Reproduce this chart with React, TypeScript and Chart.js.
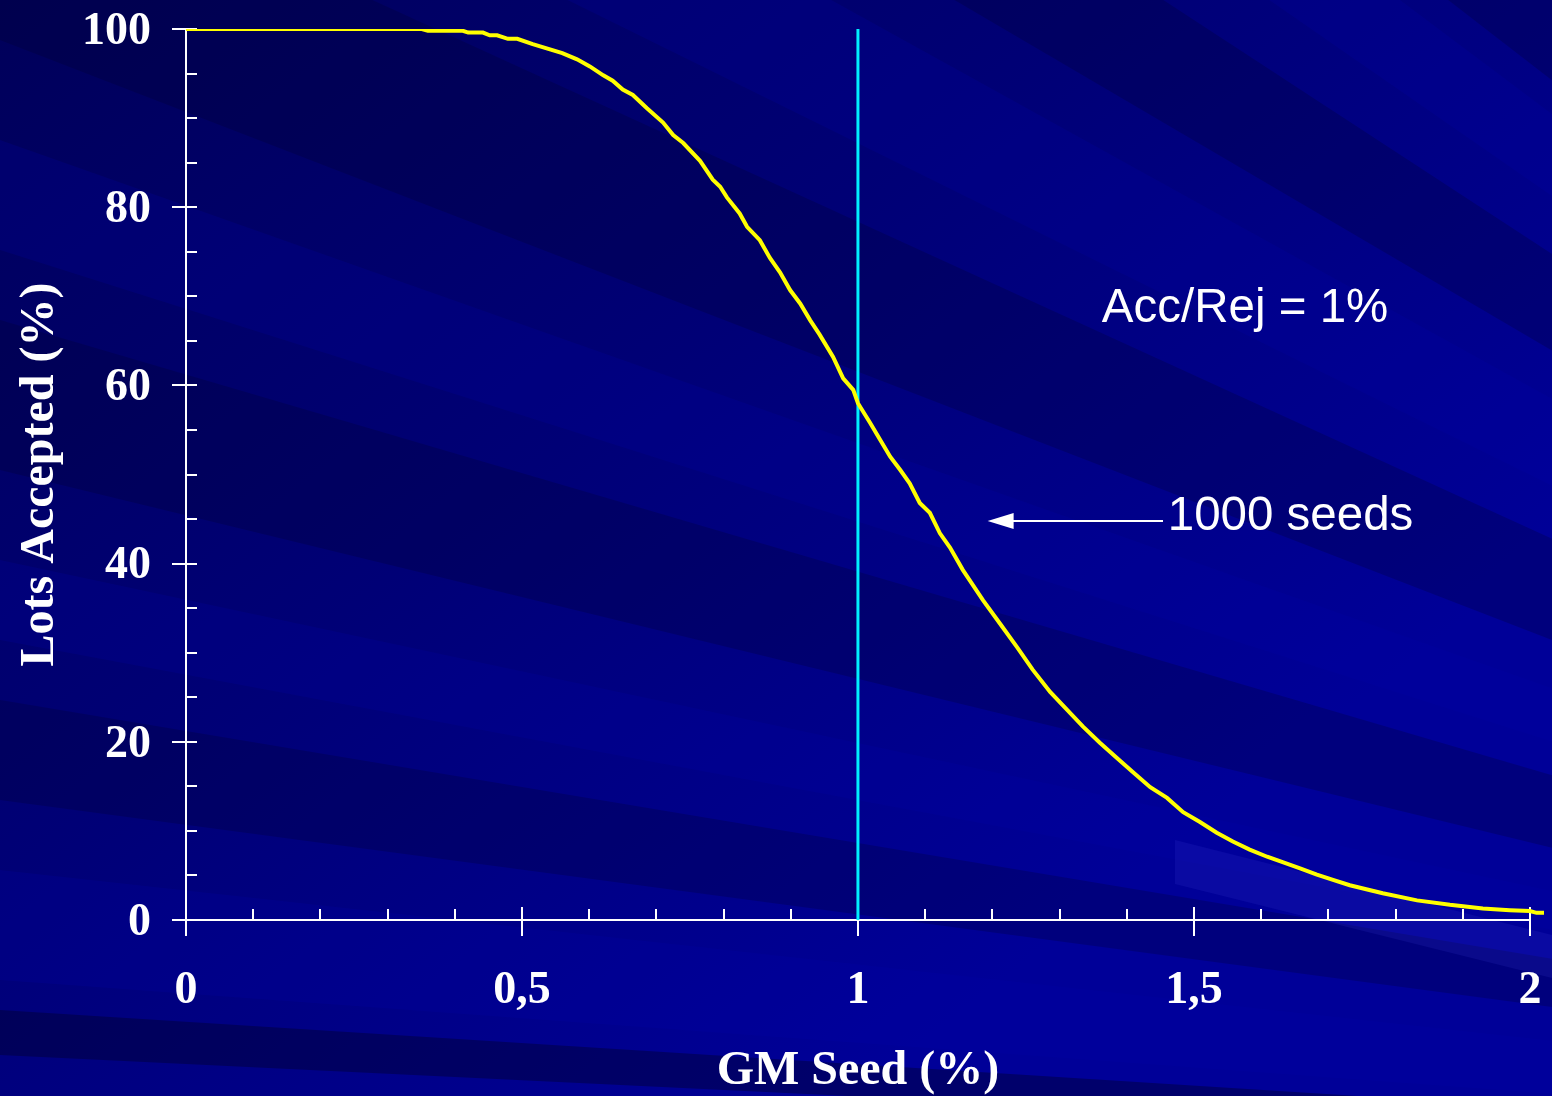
import React, { useEffect, useRef } from 'react';
import { Chart, registerables } from 'chart.js';

Chart.register(...registerables);

// ---- data ----
const seedPct = [
  0, 0.351, 0.36, 0.412, 0.42, 0.442, 0.452, 0.463, 0.479, 0.493, 0.516, 0.56, 0.582, 0.601,
  0.621, 0.635, 0.65, 0.665, 0.686, 0.71, 0.725, 0.74, 0.765, 0.784, 0.795, 0.805, 0.824,
  0.835, 0.854, 0.869, 0.884, 0.899, 0.914, 0.929, 0.943, 0.963, 0.978, 0.993, 1.0, 1.018,
  1.033, 1.048, 1.063, 1.077, 1.092, 1.107, 1.122, 1.137, 1.156, 1.186, 1.211, 1.237, 1.26,
  1.286, 1.311, 1.335, 1.36, 1.385, 1.409, 1.435, 1.46, 1.484, 1.509, 1.534, 1.558, 1.583,
  1.609, 1.632, 1.658, 1.683, 1.707, 1.732, 1.781, 1.832, 1.881, 1.93, 1.97, 2.0, 2.01, 2.021,
];
const lotsAccepted = [
  100, 100, 99.8, 99.8, 99.6, 99.6, 99.3, 99.3, 98.9, 98.9, 98.3, 97.3, 96.6, 95.8,
  94.8, 94.2, 93.2, 92.6, 91.1, 89.5, 88.1, 87.2, 85.2, 83.1, 82.3, 81.1, 79.3,
  77.8, 76.3, 74.3, 72.7, 70.7, 69.2, 67.3, 65.7, 63.2, 60.8, 59.5, 58.0, 55.8,
  53.9, 52.0, 50.5, 49.0, 46.8, 45.7, 43.4, 41.8, 39.3, 35.9, 33.3, 30.6, 28.1,
  25.6, 23.6, 21.7, 19.9, 18.2, 16.6, 14.9, 13.7, 12.1, 11.0, 9.8, 8.8, 7.9,
  7.1, 6.5, 5.8, 5.1, 4.5, 3.9, 3.0, 2.2, 1.7, 1.3, 1.1, 1.0, 0.8, 0.8,
];
const thresholdX = [1, 1];
const thresholdY = [0, 100];
const xAxisMax = 2;
const xDataMax = 2.021;
const xTickValues = [0, 0.5, 1, 1.5, 2];
const xTickLabels = ['0', '0,5', '1', '1,5', '2'];
const xMinorStep = 0.1;
const yMinorStep = 5;
const xTitle = 'GM Seed (%)';
const yTitle = 'Lots Accepted (%)';
const noteText = 'Acc/Rej = 1%';
const noteAt = { x: 1.363, y: 67.1 };
const arrowText = '1000 seeds';
const arrowTextAt = { x: 1.461, y: 43.8 };
const arrowFrom = { x: 1.454, y: 44.8 };
const arrowTip = { x: 1.193, y: 44.8 };

const LIGHT = 'rgba(0,0,170,0.20)';
const DARK = 'rgba(0,0,40,0.24)';
const rayBands: [number, number, string][] = [
  [-1320, -1120, DARK],
  [-1050, -880, LIGHT],
  [-760, -560, DARK],
  [-460, -280, LIGHT],
  [-170, 40, DARK],
  [140, 250, LIGHT],
  [320, 470, DARK],
  [560, 640, LIGHT],
  [700, 800, DARK],
  [870, 980, LIGHT],
  [1010, 1055, 'rgba(0,0,40,0.40)'],
];

const bgPlugin = {
  id: 'bgRays',
  beforeDraw(chart: any) {
    const { ctx, width, height } = chart;
    ctx.save();
    const g = ctx.createLinearGradient(0, 0, width * 0.55, height);
    g.addColorStop(0, '#00005A');
    g.addColorStop(0.5, '#000076');
    g.addColorStop(1, '#000098');
    ctx.fillStyle = g;
    ctx.fillRect(0, 0, width, height);
    const ox = 3000, oy = 1200, t = 1.4;
    for (const [a, b, c] of rayBands) {
      ctx.beginPath();
      ctx.moveTo(ox, oy);
      ctx.lineTo(ox - t * ox, oy + t * (a - oy));
      ctx.lineTo(ox - t * ox, oy + t * (b - oy));
      ctx.closePath();
      ctx.fillStyle = c;
      ctx.fill();
    }
    ctx.beginPath();
    ctx.moveTo(1175, 840);
    ctx.lineTo(1552, 935);
    ctx.lineTo(1552, 978);
    ctx.lineTo(1175, 884);
    ctx.closePath();
    ctx.fillStyle = 'rgba(60,60,220,0.16)';
    ctx.fill();
    ctx.restore();
  },
};

const axesPlugin = {
  id: 'axesDraw',
  beforeDatasetsDraw(chart: any) {
    const { ctx } = chart;
    const xs = chart.scales.x, ys = chart.scales.y;
    const x0 = Math.round(xs.getPixelForValue(0));
    const y0 = Math.round(ys.getPixelForValue(0));
    const yTop = Math.round(ys.getPixelForValue(100));
    const xEnd = Math.round(xs.getPixelForValue(xAxisMax));
    ctx.save();
    ctx.strokeStyle = '#ffffff';
    ctx.lineWidth = 2;
    const line = (a: number, b: number, c: number, d: number) => {
      ctx.beginPath();
      ctx.moveTo(a, b);
      ctx.lineTo(c, d);
      ctx.stroke();
    };
    line(x0, yTop, x0, y0 + 16);
    line(x0 - 14, y0, xEnd + 1, y0);
    for (let v = yMinorStep; v <= 100; v += yMinorStep) {
      const py = Math.round(ys.getPixelForValue(v));
      if (v % 20 === 0) line(x0 - 14, py, x0 + 11, py);
      else line(x0, py, x0 + 11, py);
    }
    for (let i = 1; i <= 20; i++) {
      const v = i * xMinorStep;
      const px = Math.round(xs.getPixelForValue(v));
      if (i % 5 === 0) line(px, y0 - 13, px, y0 + 16);
      else line(px, y0 - 11, px, y0);
    }
    // x axis title, centred under x = 1
    ctx.fillStyle = '#ffffff';
    ctx.font = 'bold 48px "Liberation Serif", "Times New Roman", serif';
    ctx.textAlign = 'center';
    ctx.textBaseline = 'alphabetic';
    ctx.fillText(xTitle, xs.getPixelForValue(xAxisMax / 2), y0 + 164);
    ctx.restore();
  },
};

const notePlugin = {
  id: 'notes',
  afterDatasetsDraw(chart: any) {
    const { ctx } = chart;
    const xs = chart.scales.x, ys = chart.scales.y;
    ctx.save();
    ctx.fillStyle = '#ffffff';
    ctx.strokeStyle = '#ffffff';
    ctx.font = '47.5px "Liberation Sans", Arial, sans-serif';
    ctx.textBaseline = 'alphabetic';
    ctx.textAlign = 'left';
    ctx.fillText(noteText, xs.getPixelForValue(noteAt.x), ys.getPixelForValue(noteAt.y));
    ctx.fillText(arrowText, xs.getPixelForValue(arrowTextAt.x), ys.getPixelForValue(arrowTextAt.y));
    const ax = xs.getPixelForValue(arrowFrom.x);
    const ay = Math.round(ys.getPixelForValue(arrowFrom.y));
    const tx = xs.getPixelForValue(arrowTip.x);
    ctx.lineWidth = 2;
    ctx.beginPath();
    ctx.moveTo(ax, ay);
    ctx.lineTo(tx + 22, ay);
    ctx.stroke();
    ctx.beginPath();
    ctx.moveTo(tx, ay);
    ctx.lineTo(tx + 26, ay - 8);
    ctx.lineTo(tx + 26, ay + 8);
    ctx.closePath();
    ctx.fill();
    ctx.restore();
  },
};

const tickFont = { family: '"Liberation Serif", "Times New Roman", serif', size: 46, weight: 'bold' as const, lineHeight: 1 };
const titleFont = { family: '"Liberation Serif", "Times New Roman", serif', size: 48, weight: 'bold' as const, lineHeight: 1 };

export default function App() {
  const ref = useRef<HTMLCanvasElement | null>(null);
  useEffect(() => {
    if (!ref.current) return;
    const chart = new Chart(ref.current, {
      type: 'line',
      data: {
        datasets: [
          {
            data: seedPct.map((s, i) => ({ x: s, y: lotsAccepted[i] })),
            borderColor: '#FFFF00',
            borderWidth: 4,
            pointRadius: 0,
            tension: 0,
            order: 0,
          },
          {
            data: thresholdX.map((s, i) => ({ x: s, y: thresholdY[i] })),
            borderColor: '#00F0FF',
            borderWidth: 3,
            pointRadius: 0,
            order: 1,
          },
        ],
      },
      options: {
        responsive: false,
        animation: false,
        devicePixelRatio: 1,
        layout: { padding: { left: 0, right: 8, top: 29, bottom: 0 } },
        plugins: { legend: { display: false }, tooltip: { enabled: false } },
        events: [],
        scales: {
          x: {
            type: 'linear',
            min: 0,
            max: xDataMax,
            grid: { display: false, drawTicks: false },
            border: { display: false },
            ticks: {
              stepSize: 0.5,
              includeBounds: false,
              autoSkip: false,
              maxRotation: 0,
              padding: 48,
              color: '#ffffff',
              font: tickFont,
              callback: (v: any) => {
                const i = xTickValues.findIndex((t) => Math.abs(t - Number(v)) < 1e-9);
                return i >= 0 ? xTickLabels[i] : '';
              },
            },
            title: { display: false },
            afterFit: (s: any) => {
              s.height = 176;
              s.paddingLeft = 0;
              s.paddingRight = 0;
            },
          },
          y: {
            type: 'linear',
            min: 0,
            max: 100,
            grid: { display: false, drawTicks: false },
            border: { display: false },
            ticks: {
              stepSize: 20,
              padding: 35,
              labelOffset: 3,
              color: '#ffffff',
              font: tickFont,
            },
            title: {
              display: true,
              text: yTitle,
              color: '#ffffff',
              font: titleFont,
              padding: { top: 17, bottom: 0 },
            },
            afterFit: (s: any) => {
              s.width = 186;
              s.paddingTop = 0;
              s.paddingBottom = 0;
            },
          },
        },
      },
      plugins: [bgPlugin, axesPlugin, notePlugin],
    });
    return () => chart.destroy();
  }, []);
  return (
    <div style={{ position: 'absolute', left: 0, top: 0, width: 1552, height: 1096 }}>
      <canvas ref={ref} width={1552} height={1096} style={{ display: 'block' }} />
    </div>
  );
}
